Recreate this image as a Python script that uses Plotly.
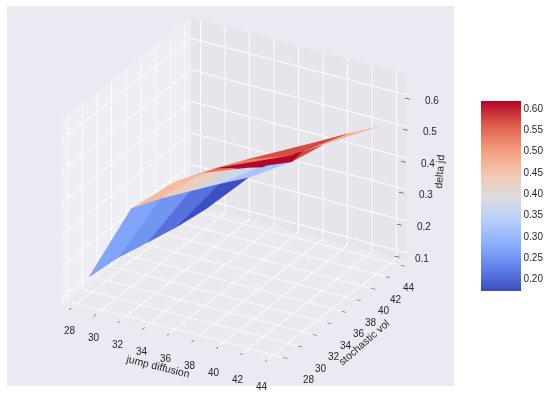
import numpy as np
import plotly.graph_objects as go

jump_diffusion = [28.9, 32.4, 35.9, 39.2, 43.1]
stochastic_vol = [28, 32, 36, 40, 44]
# delta_jd[i][j] : i = jump diffusion row, j = stochastic vol column
delta_jd = [
    [0.166, 0.155, 0.130, 0.106, 0.090],
    [0.421, 0.379, 0.329, 0.279, 0.226],
    [0.540, 0.496, 0.434, 0.371, 0.311],
    [0.617, 0.570, 0.514, 0.451, 0.414],
    [0.660, 0.625, 0.598, 0.550, 0.498],
]
# colour value of each facet (two triangles per facet)
facet_delta = [
    [(0.27, 0.27), (0.25, 0.25), (0.21, 0.21), (0.175, 0.175)],
    [(0.46, 0.46), (0.425, 0.425), (0.37, 0.37), (0.32, 0.32)],
    [(0.53, 0.53), (0.545, 0.545), (0.575, 0.615), (0.615, 0.575)],
    [(0.615, 0.53), (0.57, 0.55), (0.575, 0.575), (0.47, 0.47)],
]
tick_xy = [28, 30, 32, 34, 36, 38, 40, 42, 44]
tick_z = [0.1, 0.2, 0.3, 0.4, 0.5, 0.6]
cbar_ticks = [0.20, 0.25, 0.30, 0.35, 0.40, 0.45, 0.50, 0.55, 0.60]
coolwarm = [[0.0, "#3b4cc0"], [0.125, "#6282ea"], [0.25, "#8db0fe"], [0.375, "#b7cff9"],
            [0.5, "#dddcdc"], [0.625, "#f5c4ac"], [0.75, "#f49a7b"], [0.875, "#dc5d4a"], [1.0, "#b40426"]]
XMIN, XMAX, ZMIN, ZMAX = 27.2, 44.8, 0.075, 0.665
TEXT = "#262626"
FONT = "Liberation Sans"

Z = np.array(delta_jd)
nx, ny = Z.shape
vx, vy, vz, I, J, K, cell = [], [], [], [], [], [], []
for i in range(nx):
    for j in range(ny):
        vx.append(jump_diffusion[i]); vy.append(stochastic_vol[j]); vz.append(Z[i, j])
for i in range(nx - 1):
    for j in range(ny - 1):
        a = i * ny + j; b = (i + 1) * ny + j; c = (i + 1) * ny + j + 1; d = i * ny + j + 1
        f0, f1 = facet_delta[i][j]
        if i == 2 and j == 3:
            I += [a, b]; J += [b, c]; K += [d, d]
        else:
            I += [a, a]; J += [b, c]; K += [c, d]
        cell += [f0, f1]

mesh = go.Mesh3d(
    x=vx, y=vy, z=vz, i=I, j=J, k=K, intensity=cell, intensitymode="cell",
    colorscale=coolwarm, cmin=0.171, cmax=0.617, flatshading=True,
    lighting=dict(ambient=1, diffuse=0, specular=0, roughness=1, fresnel=0),
    hoverinfo="skip",
    colorbar=dict(len=190 / 394, lenmode="fraction", thickness=40, thicknessmode="pixels",
                  x=481 / 553, xanchor="left", y=1 - 196 / 394, yanchor="middle",
                  tickmode="array", tickvals=cbar_ticks, ticktext=[f"{t:.2f}" for t in cbar_ticks],
                  ticks="", outlinewidth=0, borderwidth=0, xpad=0, ypad=0,
                  tickfont=dict(family=FONT, size=10, color=TEXT)),
)


def note(x, y, z, text, xs=0, ys=0, angle=0, size=10):
    return dict(x=x, y=y, z=z, text=text, showarrow=False, xshift=xs, yshift=ys, textangle=angle,
                font=dict(family=FONT, size=size, color=TEXT))


notes = []
for t in tick_xy:
    u = (t - 28) / 16
    notes.append(note(t, XMIN, ZMIN, str(t), xs=-1.7 - 3.3 * u, ys=-22.5 - 4 * u))
    notes.append(note(XMAX, t, ZMIN, str(t), xs=26 - 18 * u, ys=-22.5))
for t in tick_z:
    notes.append(note(XMAX, XMAX, t, f"{t:.1f}", xs=21 + (t - 0.35) * 20, ys=-5.5))
    notes.append(note(XMAX, XMAX, t, "\u2013", xs=-4 + (t - 0.35) * 20, ys=-3, angle=12, size=9))
notes.append(note(36, XMIN, ZMIN, "jump diffusion", xs=-11, ys=-32, angle=14, size=10.5))
notes.append(note(XMAX, 36, ZMIN, "stochastic vol", xs=22, ys=-30.5, angle=-41, size=10.5))
notes.append(note(XMAX, XMAX, 0.35, "delta jd", xs=33, ys=2.5, angle=-86, size=10.5))


def ax(tv, bg, rng, tick=True):
    return dict(title=dict(text=""), range=rng, tickmode="array", tickvals=tv, showticklabels=False,
                showbackground=True, backgroundcolor=bg, gridcolor="#ffffff", gridwidth=2,
                zeroline=False, showline=False, ticks="outside" if tick else "", ticklen=5,
                tickwidth=1, tickcolor=TEXT, showspikes=False, autorange=False)


cx, cy, cz = -0.0088, -0.0218, -0.0286
r = 2.5
fig = go.Figure([mesh])
fig.update_layout(
    width=553, height=394, margin=dict(l=0, r=0, t=0, b=0), paper_bgcolor="#ffffff",
    showlegend=False,
    scene=dict(
        domain=dict(x=[7 / 553, 454 / 553], y=[1 - 386 / 394, 1 - 6 / 394]),
        bgcolor="#eaeaf2",
        xaxis=ax(tick_xy, "#eeeef4", [XMIN, XMAX]),
        yaxis=ax(tick_xy, "#e6e6ea", [XMIN, XMAX]),
        zaxis=ax(tick_z, "#eaeaee", [ZMIN, ZMAX], tick=False),
        aspectmode="manual", aspectratio=dict(x=1.31, y=1.36, z=1.10),
        annotations=notes,
        camera=dict(eye=dict(x=cx + r * 0.4455, y=cy - r * 0.7716, z=cz + r * 0.454),
                    center=dict(x=cx, y=cy, z=cz),
                    up=dict(x=0, y=0, z=1), projection=dict(type="orthographic")),
    ),
)
fig.write_html("out.html", post_script="document.body.style.margin='0';", config=dict(displayModeBar=False))
